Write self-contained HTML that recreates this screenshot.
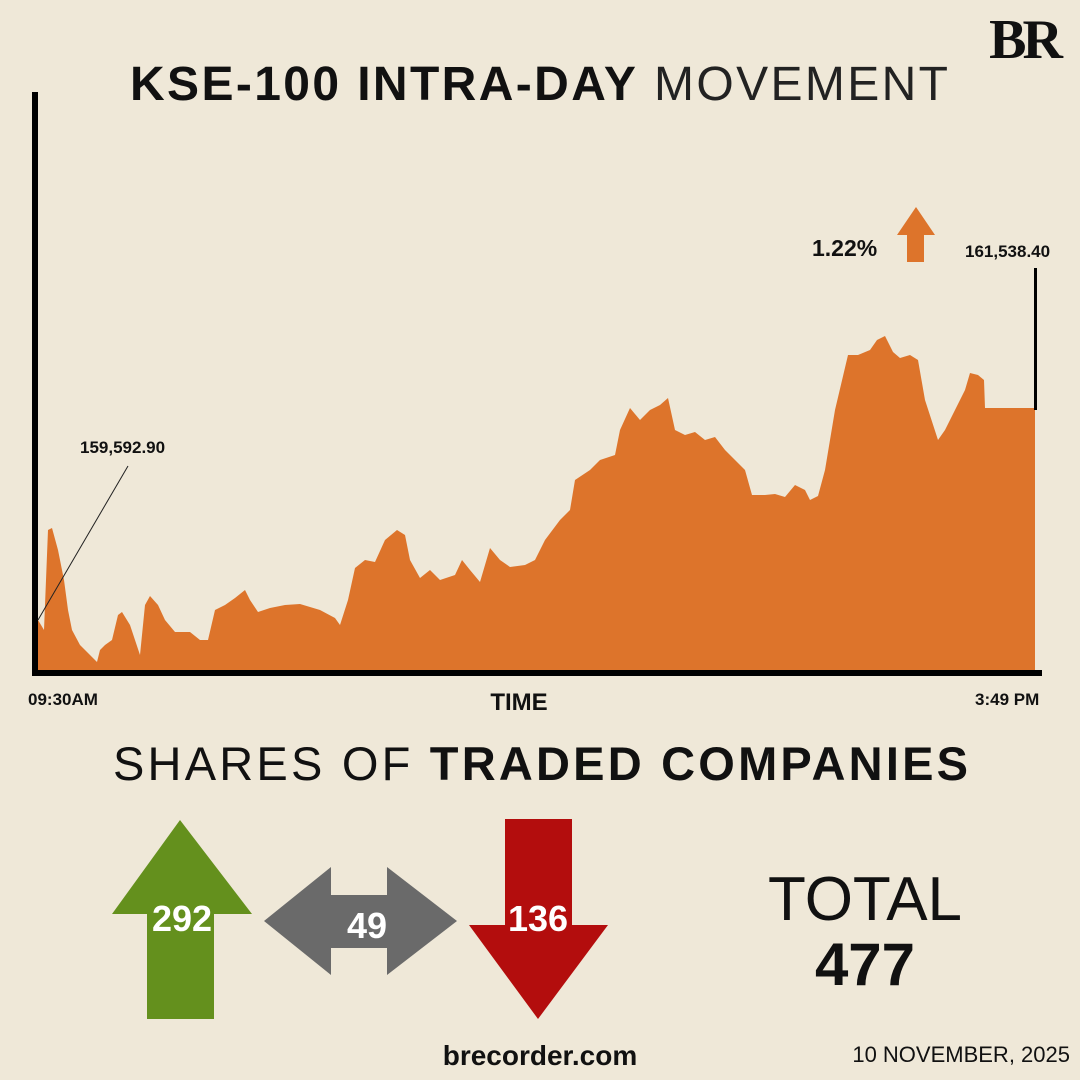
<!DOCTYPE html>
<html><head><meta charset="utf-8"><style>
body{margin:0;background:#efe8d8;}
svg{display:block}
</style></head><body>
<svg width="1080" height="1080" viewBox="0 0 1080 1080" xmlns="http://www.w3.org/2000/svg">
<rect width="1080" height="1080" fill="#efe8d8"/>
<text x="1024" y="58" text-anchor="middle" font-family="Liberation Serif,serif" font-weight="bold" font-size="56" letter-spacing="-4" fill="#111">BR</text>
<text x="130" y="100" font-family="Liberation Sans,sans-serif" font-size="48" fill="#111" textLength="818" lengthAdjust="spacing"><tspan font-weight="bold">KSE-100 INTRA-DAY</tspan><tspan font-weight="normal" fill="#222"> MOVEMENT</tspan></text>
<polygon fill="#dd742b" points="38,672 38,620 44,630 48,530 52,528 58,550 64,580 68,610 72,630 80,645 90,655 97,662 100,650 105,645 112,640 118,615 122,612 130,625 135,640 140,655 145,605 150,596 158,605 165,620 175,632 190,632 200,640 208,640 215,610 225,605 235,598 245,590 250,600 258,612 270,608 285,605 300,604 320,610 335,618 340,625 348,600 355,568 365,560 375,562 385,540 397,530 405,535 410,560 420,578 430,570 440,580 455,575 462,560 470,570 480,582 490,548 500,560 510,567 525,565 535,560 545,540 560,520 570,510 575,480 590,470 600,460 615,455 620,430 630,408 640,420 650,410 660,405 668,398 675,430 685,435 695,432 705,440 715,437 725,450 735,460 745,470 752,495 765,495 775,494 785,497 795,485 805,490 810,500 818,496 825,470 835,410 848,355 858,355 870,350 877,340 885,336 893,352 900,358 910,355 918,360 925,400 938,440 945,430 955,410 965,390 970,373 978,375 984,380 985,408 1035,408 1035,672"/>
<rect x="32" y="92" width="6" height="584" fill="#000"/>
<rect x="32" y="670" width="1010" height="6" fill="#000"/>
<rect x="1034" y="268" width="3" height="142" fill="#000"/>
<line x1="38" y1="620" x2="128" y2="466" stroke="#222" stroke-width="1"/>
<g font-family="Liberation Sans,sans-serif" font-weight="bold" fill="#111">
<text x="80" y="453" font-size="17">159,592.90</text>
<text x="965" y="257" font-size="17">161,538.40</text>
<text x="812" y="256" font-size="23">1.22%</text>
<text x="28" y="705" font-size="17">09:30AM</text>
<text x="975" y="705" font-size="17">3:49 PM</text>
<text x="519" y="710" font-size="24" text-anchor="middle">TIME</text>
</g>
<polygon fill="#dd742b" points="916,207 935,235 924,235 924,262 907,262 907,235 897,235"/>
<text x="113" y="780" font-family="Liberation Sans,sans-serif" font-size="47" fill="#111" textLength="855" lengthAdjust="spacing"><tspan font-weight="normal">SHARES OF </tspan><tspan font-weight="bold">TRADED COMPANIES</tspan></text>
<polygon fill="#64901d" points="180,820 252,914 214,914 214,1019 147,1019 147,914 112,914"/>
<polygon fill="#6a6a6a" points="264,921 331,867 331,895 387,895 387,867 457,921 387,975 387,948 331,948 331,975"/>
<polygon fill="#b30d0d" points="505,819 572,819 572,925 608,925 538,1019 469,925 505,925"/>
<g font-family="Liberation Sans,sans-serif" font-weight="bold" fill="#fff" font-size="36" text-anchor="middle">
<text x="182" y="931">292</text>
<text x="367" y="938">49</text>
<text x="538" y="931">136</text>
</g>
<text x="865" y="920" text-anchor="middle" font-family="Liberation Sans,sans-serif" font-size="62" fill="#111">TOTAL</text>
<text x="865" y="985" text-anchor="middle" font-family="Liberation Sans,sans-serif" font-weight="bold" font-size="60" fill="#111">477</text>
<text x="540" y="1065" text-anchor="middle" font-family="Liberation Sans,sans-serif" font-weight="bold" font-size="28" fill="#111">brecorder.com</text>
<text x="1070" y="1062" text-anchor="end" font-family="Liberation Sans,sans-serif" font-size="22" fill="#111">10 NOVEMBER, 2025</text>
</svg>
</body></html>
